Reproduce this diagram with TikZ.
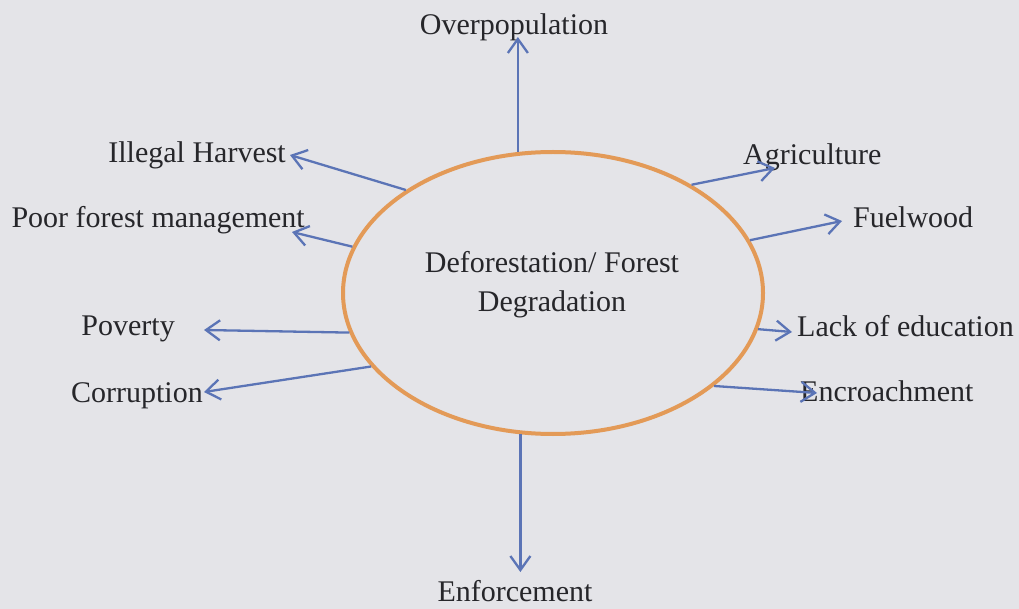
\documentclass[tikz,border=0pt]{standalone}
\usepackage{fontspec}
\setmainfont{Liberation Serif}
\usepackage{tikz}
\usetikzlibrary{shapes.geometric, arrows.meta, positioning}
\definecolor{bgcolor}{HTML}{E4E4E8}
\definecolor{ringcolor}{HTML}{E39A57}
\definecolor{arrowcolor}{HTML}{5B74B6}
\definecolor{textcolor}{HTML}{26262A}

\begin{document}
\begin{tikzpicture}[x=1pt, y=-1pt,
    cause/.style={inner sep=0pt, text=textcolor, font=\fontsize{30}{39}\selectfont},
    arr/.style={-{Straight Barb[length=14pt, width=20pt]}, arrowcolor, line width=2.3pt}]
    % Background
    \fill[bgcolor] (0,0) rectangle (1019,609);
    \useasboundingbox (0,0) rectangle (1019,609);

    % Central problem
    \node[ellipse, draw=ringcolor, line width=4pt, minimum width=420pt,
        minimum height=282pt, inner sep=0pt] (ell) at (553,293) {};
    \node[cause, align=center] (core) at (552,285) {Deforestation/ Forest\\Degradation};

    % Causes
    \node[cause, anchor=base] (ovp) at (514,35) {Overpopulation};
    \node[cause, anchor=base east] (ill) at (286,163) {Illegal Harvest};
    \node[cause, anchor=base east] (pfm) at (305,228) {Poor forest management};
    \node[cause, anchor=base east] (pov) at (175,335) {Poverty};
    \node[cause, anchor=base east] (cor) at (203,402) {Corruption};
    \node[cause, anchor=base] (enf) at (515,601) {Enforcement};
    \node[cause, anchor=base west] (agr) at (743,165) {Agriculture};
    \node[cause, anchor=base west] (fue) at (853,228) {Fuelwood};
    \node[cause, anchor=base west] (lac) at (797,336) {Lack of education};
    \node[cause, anchor=base west] (enc) at (800,401) {Encroachment};

    % Arrow tips
    \coordinate (ovp-tip) at (519,37);
    \coordinate (ill-tip) at (290,155);
    \coordinate (pfm-tip) at (292,232);
    \coordinate (pov-tip) at (204,330);
    \coordinate (cor-tip) at (204,392);
    \coordinate (enf-tip) at (520,572);
    \coordinate (agr-tip) at (775,168);
    \coordinate (fue-tip) at (842,221);
    \coordinate (lac-tip) at (792,332);
    \coordinate (enc-tip) at (817,393);

    % Arrows
    \draw[arr] (ell.104) -- (ell.104 |- ovp-tip);
    \draw[arr] (ell.145) -- (ill-tip);
    \draw[arr] (ell.167) -- (pfm-tip);
    \draw[arr] (ell.191) -- (pov-tip);
    \draw[arr] (ell.202) -- (cor-tip);
    \draw[arr] (ell.257) -- (ell.257 |- enf-tip);
    \draw[arr] (ell.38) -- (agr-tip);
    \draw[arr] (ell.15) -- (fue-tip);
    \draw[arr] (ell.350) -- (lac-tip);
    \draw[arr] (ell.330) -- (enc-tip);
\end{tikzpicture}
\end{document}
